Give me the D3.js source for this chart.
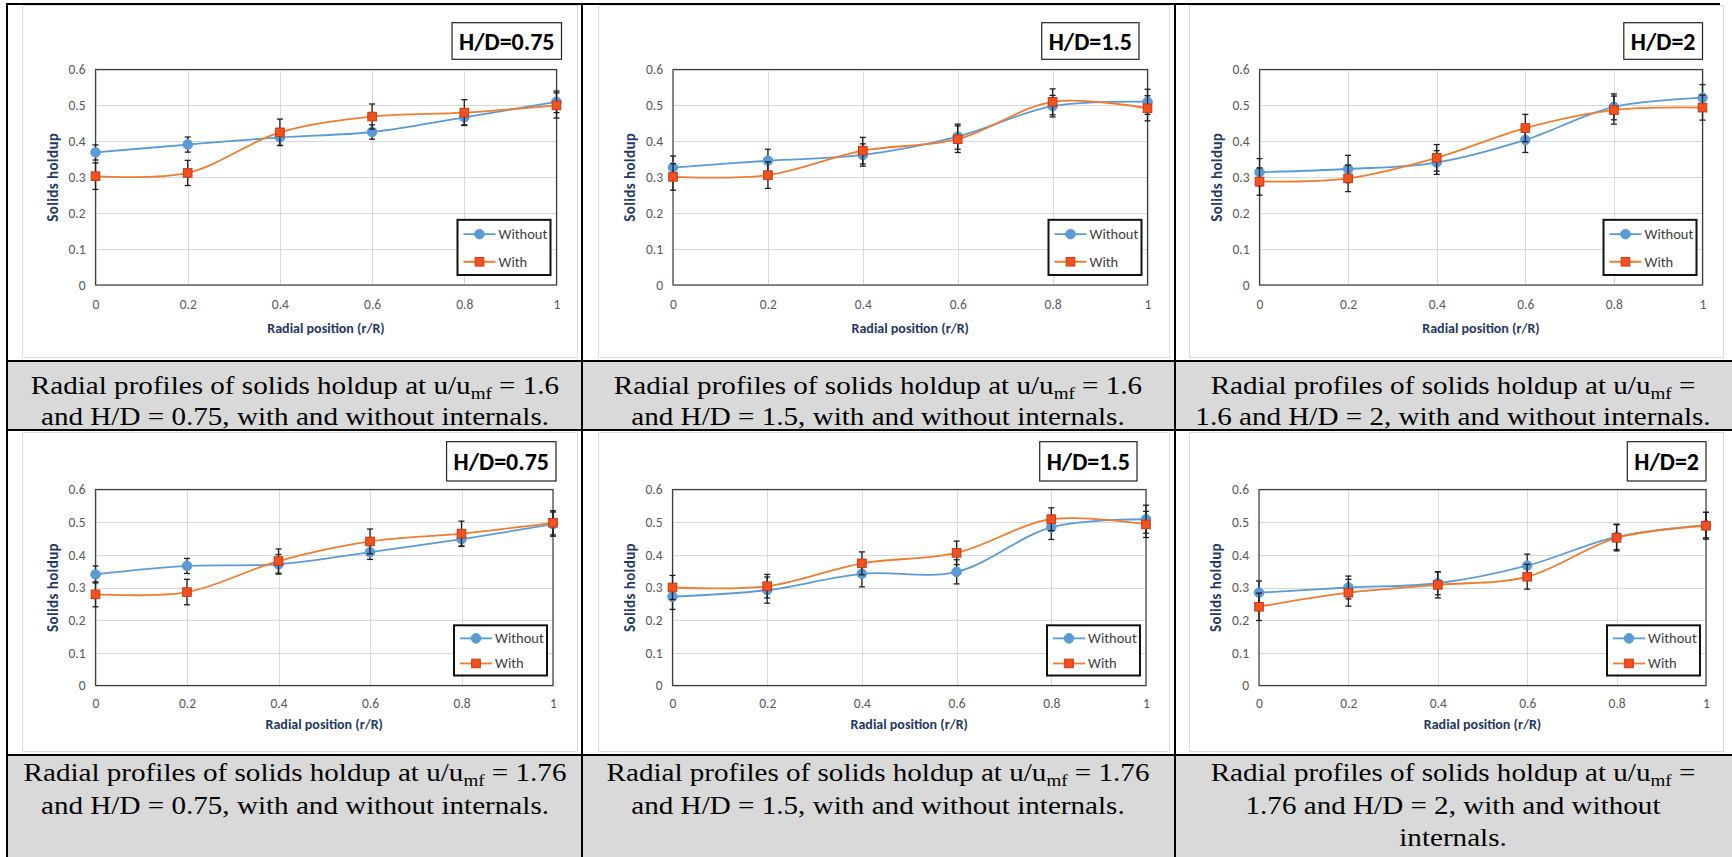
<!DOCTYPE html>
<html>
<head>
<meta charset="utf-8">
<title>Radial profiles of solids holdup</title>
<script src="https://cdn.jsdelivr.net/npm/d3@7/dist/d3.min.js"></script>
<style>
  html, body { margin: 0; padding: 0; background: #fff; }
  svg { display: block; }
</style>
</head>
<body>
<svg id="figure"></svg>
<script>
// ---- data -------------------------------------------------------------
var radialPosition = [0, 0.2, 0.4, 0.6, 0.8, 1];
var xTickValues = [0, 0.2, 0.4, 0.6, 0.8, 1];
var xTickLabels = ["0", "0.2", "0.4", "0.6", "0.8", "1"];
var yTickValues = [0, 0.1, 0.2, 0.3, 0.4, 0.5, 0.6];
var yTickLabels = ["0", "0.1", "0.2", "0.3", "0.4", "0.5", "0.6"];
var seriesNames = ["Without", "With"];
var panelLabels = ["H/D=0.75", "H/D=1.5", "H/D=2", "H/D=0.75", "H/D=1.5", "H/D=2"];
var xTitle = "Radial position (r/R)";
var yTitle = "Solids holdup";

// one row per panel, left to right, top to bottom
var withoutHoldup = [
    [0.369, 0.391, 0.411, 0.426, 0.467, 0.510],
    [0.327, 0.346, 0.362, 0.413, 0.498, 0.510],
    [0.314, 0.323, 0.341, 0.404, 0.496, 0.521],
    [0.340, 0.366, 0.371, 0.408, 0.448, 0.494],
    [0.272, 0.292, 0.342, 0.348, 0.484, 0.509],
    [0.284, 0.300, 0.313, 0.367, 0.455, 0.491]
];
var withoutError = [
    [0.021, 0.021, 0.022, 0.020, 0.021, 0.030],
    [0.032, 0.032, 0.031, 0.035, 0.030, 0.035],
    [0.038, 0.038, 0.033, 0.035, 0.036, 0.037],
    [0.026, 0.023, 0.030, 0.022, 0.022, 0.037],
    [0.039, 0.040, 0.040, 0.037, 0.037, 0.043],
    [0.036, 0.035, 0.035, 0.035, 0.039, 0.039]
];
var withHoldup = [
    [0.303, 0.312, 0.425, 0.469, 0.480, 0.500],
    [0.301, 0.306, 0.374, 0.406, 0.510, 0.492],
    [0.288, 0.297, 0.354, 0.437, 0.487, 0.494],
    [0.279, 0.286, 0.381, 0.441, 0.465, 0.498],
    [0.300, 0.304, 0.374, 0.406, 0.509, 0.493],
    [0.241, 0.284, 0.308, 0.333, 0.452, 0.489]
];
var withError = [
    [0.037, 0.035, 0.037, 0.035, 0.036, 0.035],
    [0.037, 0.037, 0.037, 0.037, 0.036, 0.035],
    [0.038, 0.037, 0.037, 0.038, 0.039, 0.035],
    [0.038, 0.039, 0.037, 0.038, 0.038, 0.037],
    [0.037, 0.036, 0.035, 0.036, 0.035, 0.040],
    [0.042, 0.041, 0.040, 0.038, 0.040, 0.041]
];
// "_mf" marks the subscript
var captionLines = [
    ["Radial profiles of solids holdup at u/u_mf = 1.6", "and H/D = 0.75, with and without internals."],
    ["Radial profiles of solids holdup at u/u_mf = 1.6", "and H/D = 1.5, with and without internals."],
    ["Radial profiles of solids holdup at u/u_mf =", "1.6 and H/D = 2, with and without internals."],
    ["Radial profiles of solids holdup at u/u_mf = 1.76", "and H/D = 0.75, with and without internals."],
    ["Radial profiles of solids holdup at u/u_mf = 1.76", "and H/D = 1.5, with and without internals."],
    ["Radial profiles of solids holdup at u/u_mf =", "1.76 and H/D = 2, with and without", "internals."]
];

// ---- layout -----------------------------------------------------------
var WIDTH = 1732, HEIGHT = 857;
var CHART_FONT = "Carlito, Calibri, Lato, 'Open Sans', sans-serif";
var CAPTION_FONT = "'Liberation Serif', 'Times New Roman', serif";
var TITLE_COLOR = "#1f3864";

var columnLines = [7, 582, 1175];
var captionCenters = [295, 878, 1453];
var rows = [
    {top: 4, chartTop: 5, chartBottom: 357, captionTop: 361, captionBottom: 430,
     hdTop: 22.7, hdBottom: 59.3, firstBaseline: 394, lineStep: 31},
    {top: 430, chartTop: 432, chartBottom: 751, captionTop: 755, captionBottom: HEIGHT,
     hdTop: 441.7, hdBottom: 481, firstBaseline: 781.5, lineStep: 32.5}
];
var chartFrames = [[22, 577], [598, 1169], [1189, 1723]];
var plotBoxes = [
    {l: 95.5, r: 556.5, t: 69.5, b: 285},
    {l: 673, r: 1147.5, t: 69.5, b: 285},
    {l: 1259.5, r: 1702.5, t: 69.5, b: 285},
    {l: 95.5, r: 553, t: 489.5, b: 685.5},
    {l: 672.5, r: 1146, t: 489.5, b: 685.5},
    {l: 1259, r: 1706, t: 489.5, b: 685.5}
];
var hdBoxRight = [561.5, 1139, 1702.5, 556, 1137, 1706];

var seriesStyles = [
    {line: "#5b9bd5", marker: "circle", fill: "#5b9bd5", stroke: "#5b9bd5"},
    {line: "#ed7d31", marker: "square", fill: "#f4511e", stroke: "#c23a1a"}
];

var svg = d3.select("#figure")
    .attr("width", WIDTH)
    .attr("height", HEIGHT)
    .attr("viewBox", [0, 0, WIDTH, HEIGHT]);

svg.append("rect").attr("width", WIDTH).attr("height", HEIGHT).attr("fill", "#fff");

function drawMarker(sel, style, cx, cy) {
    if (style.marker === "circle") {
        sel.append("circle")
            .attr("cx", cx).attr("cy", cy).attr("r", 4.8)
            .attr("fill", style.fill).attr("stroke", style.stroke);
    } else {
        sel.append("rect")
            .attr("x", cx - 4.3).attr("y", cy - 4.3)
            .attr("width", 8.6).attr("height", 8.6)
            .attr("fill", style.fill).attr("stroke", style.stroke).attr("stroke-width", 1);
    }
}

/**
 * Draws one Excel-like scatter chart with smoothed lines and error bars.
 */
function drawPanel(i) {
    var box = plotBoxes[i];
    var row = rows[Math.floor(i / 3)];
    var col = i % 3;
    var ph = box.b - box.t;
    var g = svg.append("g").attr("class", "panel panel-" + i);

    g.append("rect")
        .attr("x", chartFrames[col][0] + 0.5).attr("y", row.chartTop + 0.5)
        .attr("width", chartFrames[col][1] - chartFrames[col][0])
        .attr("height", row.chartBottom - row.chartTop)
        .attr("fill", "#fff").attr("stroke", "#d9dce4");

    var x = d3.scaleLinear().domain([0, 1]).range([box.l, box.r]);
    var y = d3.scaleLinear().domain([0, 0.6]).range([box.b, box.t]);

    // gridlines
    g.append("g").selectAll("line").data(yTickValues).join("line")
        .attr("x1", box.l).attr("x2", box.r)
        .attr("y1", function (d) { return Math.round(y(d)) + 0.5; })
        .attr("y2", function (d) { return Math.round(y(d)) + 0.5; })
        .attr("stroke", "#d9d9d9");
    g.append("g").selectAll("line").data(xTickValues).join("line")
        .attr("x1", function (d) { return Math.round(x(d)) + 0.5; })
        .attr("x2", function (d) { return Math.round(x(d)) + 0.5; })
        .attr("y1", box.t).attr("y2", box.b)
        .attr("stroke", "#d9d9d9");

    // axes (labels only)
    var yAxis = g.append("g")
        .attr("transform", "translate(" + box.l + ",0)")
        .call(d3.axisLeft(y).tickValues(yTickValues).tickSize(0).tickPadding(10)
            .tickFormat(function (d, k) { return yTickLabels[k]; }));
    var xAxis = g.append("g")
        .attr("transform", "translate(0," + box.b + ")")
        .call(d3.axisBottom(x).tickValues(xTickValues).tickSize(0).tickPadding(0.065 * ph)
            .tickFormat(function (d, k) { return xTickLabels[k]; }));
    [yAxis, xAxis].forEach(function (a) {
        a.select(".domain").remove();
        a.selectAll("text")
            .attr("fill", "#595959")
            .style("font-family", CHART_FONT)
            .style("font-size", "13.5px");
    });

    // plot area border
    g.append("rect")
        .attr("x", box.l).attr("y", box.t)
        .attr("width", box.r - box.l).attr("height", box.b - box.t)
        .attr("fill", "none").attr("stroke", "#3f3f3f").attr("stroke-width", 1.2);

    // axis titles
    g.append("text")
        .attr("transform", "translate(" + (box.l - 43) + "," + ((box.t + box.b) / 2) + ") rotate(-90)")
        .attr("text-anchor", "middle").attr("dominant-baseline", "central")
        .attr("fill", TITLE_COLOR)
        .style("font-family", CHART_FONT).style("font-size", "15px").style("font-weight", "bold")
        .style("letter-spacing", "0.4px")
        .text(yTitle);
    g.append("text")
        .attr("x", (box.l + box.r) / 2).attr("y", box.b + 0.2 * ph)
        .attr("text-anchor", "middle").attr("dominant-baseline", "central")
        .attr("fill", TITLE_COLOR)
        .style("font-family", CHART_FONT).style("font-size", "14px").style("font-weight", "bold")
        .text(xTitle);

    // series
    var seriesValues = [withoutHoldup[i], withHoldup[i]];
    var seriesErrors = [withoutError[i], withError[i]];
    var line = d3.line()
        .x(function (d) { return x(d[0]); })
        .y(function (d) { return y(d[1]); })
        .curve(d3.curveCatmullRom.alpha(0.5));

    seriesValues.forEach(function (values, s) {
        var style = seriesStyles[s];
        var pts = radialPosition.map(function (r, k) { return [r, values[k], seriesErrors[s][k]]; });
        var sg = g.append("g").attr("class", "series series-" + s);

        sg.append("path")
            .attr("d", line(pts))
            .attr("fill", "none")
            .attr("stroke", style.line)
            .attr("stroke-width", 1.8);

        var bars = sg.append("g").selectAll("g").data(pts).join("g")
            .attr("stroke", "#1e1e1e").attr("stroke-width", 1.3);
        bars.append("line")
            .attr("x1", function (d) { return x(d[0]); }).attr("x2", function (d) { return x(d[0]); })
            .attr("y1", function (d) { return y(d[1] - d[2]); })
            .attr("y2", function (d) { return y(d[1] + d[2]); });
        [-1, 1].forEach(function (sign) {
            bars.append("line")
                .attr("x1", function (d) { return x(d[0]) - 3; })
                .attr("x2", function (d) { return x(d[0]) + 3; })
                .attr("y1", function (d) { return y(d[1] + sign * d[2]); })
                .attr("y2", function (d) { return y(d[1] + sign * d[2]); });
        });

        var mg = sg.append("g");
        pts.forEach(function (d) { drawMarker(mg, style, x(d[0]), y(d[1])); });
    });

    // legend
    var gap = 0.128 * ph;
    var lw = 93, lh = 2 * gap;
    var lx = box.r - 6 - lw, ly = box.b - 10 - lh;
    var lg = g.append("g").attr("class", "legend");
    lg.append("rect")
        .attr("x", lx).attr("y", ly).attr("width", lw).attr("height", lh)
        .attr("fill", "#fff").attr("stroke", "#111").attr("stroke-width", 2);
    seriesNames.forEach(function (name, s) {
        var cy = ly + gap * (0.52 + s);
        lg.append("line")
            .attr("x1", lx + 6).attr("x2", lx + 38).attr("y1", cy).attr("y2", cy)
            .attr("stroke", seriesStyles[s].line).attr("stroke-width", 1.8);
        drawMarker(lg, seriesStyles[s], lx + 22, cy);
        lg.append("text")
            .attr("x", lx + 41).attr("y", cy)
            .attr("dominant-baseline", "central")
            .attr("fill", "#404040")
            .style("font-family", CHART_FONT).style("font-size", "14.5px")
            .text(name);
    });

    // H/D label box
    var hd = g.append("g").attr("class", "hd-label");
    var hdText = hd.append("text")
        .attr("y", (row.hdTop + row.hdBottom) / 2)
        .attr("dominant-baseline", "central")
        .attr("text-anchor", "end")
        .attr("fill", "#000")
        .style("font-family", CHART_FONT).style("font-size", "24px").style("font-weight", "bold")
        .text(panelLabels[i]);
    hdText.attr("x", hdBoxRight[i] - 7);
    var tw = hdText.node().getComputedTextLength();
    hd.insert("rect", "text")
        .attr("x", hdBoxRight[i] - tw - 14).attr("y", row.hdTop)
        .attr("width", tw + 14).attr("height", row.hdBottom - row.hdTop)
        .attr("fill", "#fff").attr("stroke", "#222").attr("stroke-width", 1.2);
}

d3.range(6).forEach(drawPanel);

// ---- table: caption cells and rules -----------------------------------
rows.forEach(function (row) {
    svg.append("rect")
        .attr("x", columnLines[0]).attr("y", row.captionTop)
        .attr("width", WIDTH - columnLines[0]).attr("height", row.captionBottom - row.captionTop)
        .attr("fill", "#d9d9d9");
});

var rules = svg.append("g").attr("stroke", "#000").attr("stroke-width", 2);
rules.append("line").attr("x1", columnLines[0] - 1).attr("x2", 1720).attr("y1", 4).attr("y2", 4);
[rows[0].captionTop, rows[0].captionBottom, rows[1].captionTop].forEach(function (yy) {
    rules.append("line").attr("x1", columnLines[0] - 1).attr("x2", WIDTH).attr("y1", yy).attr("y2", yy);
});
columnLines.forEach(function (xx) {
    rules.append("line").attr("x1", xx).attr("x2", xx).attr("y1", 3).attr("y2", HEIGHT);
});

// captions (Times-like serif, slightly widened as in the reference)
var CAPTION_STRETCH = 1.12;
captionLines.forEach(function (lines, i) {
    var row = rows[Math.floor(i / 3)];
    var cg = svg.append("g")
        .attr("transform", "translate(" + captionCenters[i % 3] + ",0) scale(" + CAPTION_STRETCH + ",1)");
    lines.forEach(function (txt, k) {
        var t = cg.append("text")
            .attr("x", 0).attr("y", row.firstBaseline + k * row.lineStep)
            .attr("text-anchor", "middle")
            .attr("fill", "#000")
            .style("font-family", CAPTION_FONT).style("font-size", "26px");
        var parts = txt.split("_mf");
        t.append("tspan").text(parts[0]);
        if (parts.length > 1) {
            t.append("tspan").attr("dy", 5).style("font-size", "17px").text("mf");
            t.append("tspan").attr("dy", -5).text(parts[1]);
        }
    });
});
</script>
</body>
</html>
